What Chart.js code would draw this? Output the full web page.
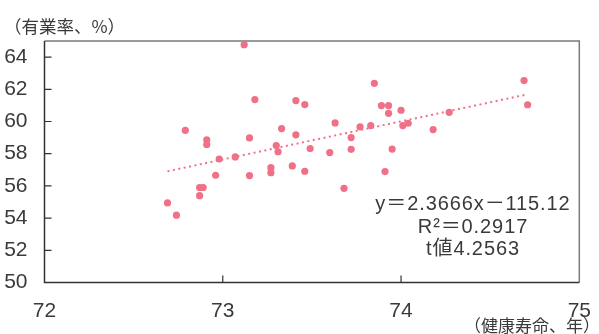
<!DOCTYPE html>
<html lang="ja">
<head>
<meta charset="utf-8"/>
<title>健康寿命と有業率</title>
<script src="https://cdn.jsdelivr.net/npm/chart.js"></script>
<style>
    html, body { margin: 0; padding: 0; background: #ffffff; }
    .wrap { position: relative; width: 599px; height: 334px; overflow: hidden; }
    canvas { display: block; }
    .label {
        position: absolute;
        font-family: 'Noto Sans CJK JP', 'Liberation Sans', sans-serif;
        color: #3a3a3a;
        white-space: nowrap;
        line-height: 1;
    }
    .y-title { left: 4px; top: 17px; font-size: 17.5px; }
    .x-title { right: -1px; top: 316px; font-size: 17px; }
    .stats {
        left: 362px; top: 192px; width: 222px;
        text-align: center; font-size: 20px; line-height: 22.5px;
        font-family: 'Liberation Sans', 'Noto Sans CJK JP', sans-serif;
        letter-spacing: 0.9px;
    }
</style>
</head>
<body>
<div class="wrap">
<canvas id="scatterChart" width="599" height="334"></canvas>
<div class="label y-title">（有業率、%）</div>
<div class="label x-title">（健康寿命、年）</div>
<div class="label stats">y＝2.3666x－115.12<br/>R²＝0.2917<br/>t値4.2563</div>
</div>
<script>
    // 健康寿命（年）
    const lifeYears = [
        73.12, 73.18, 72.79, 72.91, 72.91, 73.15, 73.33, 73.30, 73.31, 72.98,
        73.07, 73.27, 73.39, 73.41, 73.41, 73.46, 73.85, 73.89, 73.93, 73.93,
        74.00, 73.63, 73.77, 73.83, 74.01, 74.04, 74.27, 74.18, 73.72, 73.49,
        73.60, 73.72, 73.95, 73.46, 73.91, 74.69, 74.71, 73.68, 72.96, 73.15,
        73.27, 72.87, 72.89, 72.87, 72.69, 72.74
    ];
    // 有業率（%）
    const employmentRate = [
        64.77, 61.36, 59.45, 58.86, 58.57, 58.98, 59.56, 58.51, 58.12, 57.67,
        57.80, 57.13, 57.24, 61.30, 59.17, 61.05, 62.37, 60.99, 60.99, 60.51,
        60.70, 59.91, 59.66, 59.75, 59.75, 59.89, 60.57, 59.50, 59.00, 58.32,
        58.07, 58.27, 58.29, 56.91, 56.89, 62.54, 61.04, 55.85, 56.66, 56.64,
        56.82, 55.90, 55.90, 55.39, 54.94, 54.18
    ];
    // 回帰直線 y = 2.3666x - 115.12
    const trendSlope = 2.3666;
    const trendIntercept = -115.12;
    const trendRange = [72.69, 74.71];

    const xTicks = [72, 73, 74, 75];
    const yTicks = [50, 52, 54, 56, 58, 60, 62, 64];

    const pink = '#f07088';
    const points = lifeYears.map((x, i) => ({ x: x, y: employmentRate[i] }));
    const trendLine = trendRange.map(x => ({ x: x, y: trendSlope * x + trendIntercept }));

    // 枠線と内向きの目盛り
    const framePlugin = {
        id: 'frame',
        beforeDatasetsDraw(chart) {
            const { ctx, chartArea: a, scales: { x, y } } = chart;
            ctx.save();
            ctx.lineWidth = 1.5;
            ctx.strokeStyle = '#7a7a7a';
            ctx.beginPath();
            ctx.moveTo(a.left, a.top);
            ctx.lineTo(a.right, a.top);
            ctx.lineTo(a.right, a.bottom);
            ctx.stroke();
            ctx.strokeStyle = '#333333';
            ctx.beginPath();
            ctx.moveTo(a.left, a.top);
            ctx.lineTo(a.left, a.bottom);
            ctx.lineTo(a.right, a.bottom);
            ctx.stroke();
            ctx.lineWidth = 1.2;
            ctx.beginPath();
            y.ticks.forEach(t => {
                if (t.value === 50) return;
                const p = y.getPixelForValue(t.value);
                ctx.moveTo(a.left, p);
                ctx.lineTo(a.left + 7, p);
            });
            x.ticks.forEach(t => {
                if (t.value === 72 || t.value === 75) return;
                const p = x.getPixelForValue(t.value);
                ctx.moveTo(p, a.bottom);
                ctx.lineTo(p, a.bottom - 7);
            });
            ctx.stroke();
            ctx.restore();
        }
    };

    Chart.defaults.font.family = "'Liberation Sans', Arial, sans-serif";
    Chart.defaults.color = '#3a3a3a';

    new Chart(document.getElementById('scatterChart'), {
        type: 'scatter',
        data: {
            datasets: [
                {
                    data: points,
                    backgroundColor: pink,
                    borderWidth: 0,
                    pointRadius: 3.6,
                    order: 1
                },
                {
                    type: 'line',
                    data: trendLine,
                    borderColor: pink,
                    borderWidth: 2,
                    borderDash: [2, 3.5],
                    pointRadius: 0,
                    fill: false,
                    order: 2
                }
            ]
        },
        options: {
            responsive: false,
            animation: false,
            layout: { padding: { top: 41, right: 11, left: 0, bottom: 0 } },
            plugins: { legend: { display: false }, tooltip: { enabled: false } },
            scales: {
                x: {
                    type: 'linear',
                    min: 72,
                    max: 75,
                    afterBuildTicks: s => { s.ticks = xTicks.map(v => ({ value: v })); },
                    afterFit: s => { s.height = 51.5; },
                    grid: { display: false },
                    border: { display: false },
                    ticks: { padding: 8, font: { size: 21 }, maxRotation: 0 }
                },
                y: {
                    min: 50,
                    max: 65,
                    afterBuildTicks: s => { s.ticks = yTicks.map(v => ({ value: v })); },
                    afterFit: s => { s.width = 44.5; },
                    grid: { display: false },
                    border: { display: false },
                    ticks: { padding: 9, font: { size: 21 } }
                }
            }
        },
        plugins: [framePlugin]
    });
</script>
</body>
</html>
